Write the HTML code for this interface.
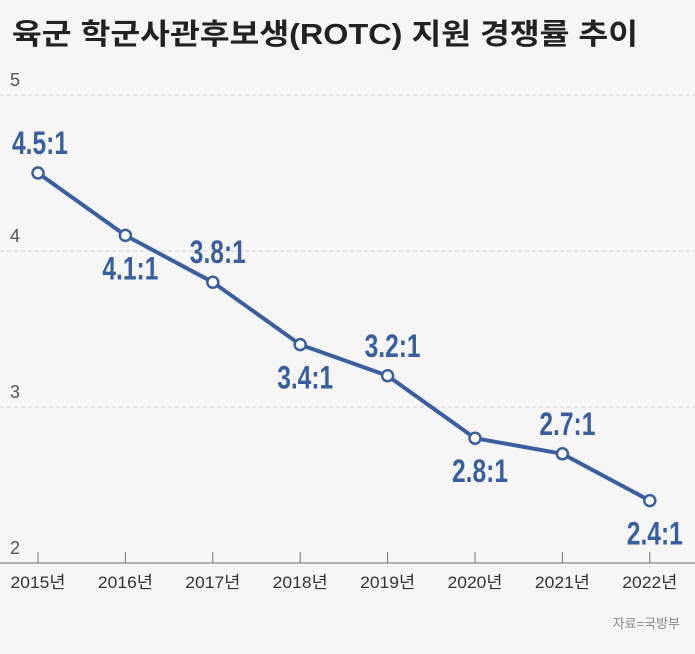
<!DOCTYPE html>
<html><head><meta charset="utf-8"><style>
body{margin:0;background:#f6f6f6;width:695px;height:649px;overflow:hidden;font-family:"Liberation Sans","Noto Sans CJK KR",sans-serif}
</style></head><body>
<svg id="chart" width="695" height="649" xmlns="http://www.w3.org/2000/svg">
<rect width="695" height="649" fill="#f6f6f6"/>
<text x="12" y="44" font-size="29" font-weight="bold" fill="#222" textLength="626" lengthAdjust="spacingAndGlyphs" font-family="Liberation Sans, Noto Sans CJK KR, sans-serif">육군 학군사관후보생(ROTC) 지원 경쟁률 추이</text>
<g id="grid"></g><g id="xaxis"></g><g id="series"></g><g id="labels"></g>
<text x="680" y="628" text-anchor="end" font-size="13" fill="#888" font-family="Liberation Sans, Noto Sans CJK KR, sans-serif">자료=국방부</text>
</svg>
<script>
const categories=["2015년","2016년","2017년","2018년","2019년","2020년","2021년","2022년"];
const values=[4.5,4.1,3.8,3.4,3.2,2.8,2.7,2.4];
const valueLabels=["4.5:1","4.1:1","3.8:1","3.4:1","3.2:1","2.8:1","2.7:1","2.4:1"];
const yTicks=[2,3,4,5];
const NS="http://www.w3.org/2000/svg";
function x(i){return 38+i*87.4;}
function y(v){return 563-(v-2)*156;}
function mk(tag,attrs,parent){const e=document.createElementNS(NS,tag);for(const k in attrs)e.setAttribute(k,attrs[k]);parent.appendChild(e);return e;}
const grid=document.getElementById('grid'),xa=document.getElementById('xaxis'),se=document.getElementById('series'),lb=document.getElementById('labels');
yTicks.forEach(t=>{
  if(t>2){const l=mk('line',{x1:0,x2:695,y1:y(t),y2:y(t),stroke:'#ccc','stroke-dasharray':'4,3'},grid);
  
  }
  const tx=mk('text',{x:10,y:y(t)-9,'font-size':18,fill:'#555'},grid);tx.textContent=t;
  
  
});
const ax=mk('line',{x1:0,x2:695,y1:563,y2:563,stroke:'#999','stroke-width':1.5},xa);


categories.forEach((c,i)=>{
  const tk=mk('line',{x1:x(i),x2:x(i),y1:552,y2:563,stroke:'#777'},xa);
  
  
  const t=mk('text',{x:x(i),y:588,'text-anchor':'middle','font-size':17,fill:'#333',textLength:55,lengthAdjust:'spacingAndGlyphs','font-family':'Liberation Sans, Noto Sans CJK KR, sans-serif'},xa);t.textContent=c;
  
  
});
const pl=mk('polyline',{points:values.map((v,i)=>x(i)+','+y(v)).join(' '),fill:'none',stroke:'#3a5fa0','stroke-width':4,'stroke-linejoin':'round'},se);


values.forEach((v,i)=>{
  const c=mk('circle',{cx:x(i),cy:y(v),r:5.5,fill:'#fff',stroke:'#3a5fa0','stroke-width':2.5},se);
  
  
  const above=i%2===0;
  const t=mk('text',{x:x(i)+(i===0?2:5),y:above?y(v)-19:y(v)+44,'text-anchor':'middle','font-size':32,'font-weight':'bold',fill:'#3a5fa0',textLength:56,lengthAdjust:'spacingAndGlyphs','font-family':'Liberation Sans, sans-serif'},lb);
  t.textContent=valueLabels[i];
  
  
});
</script>
</body></html>
